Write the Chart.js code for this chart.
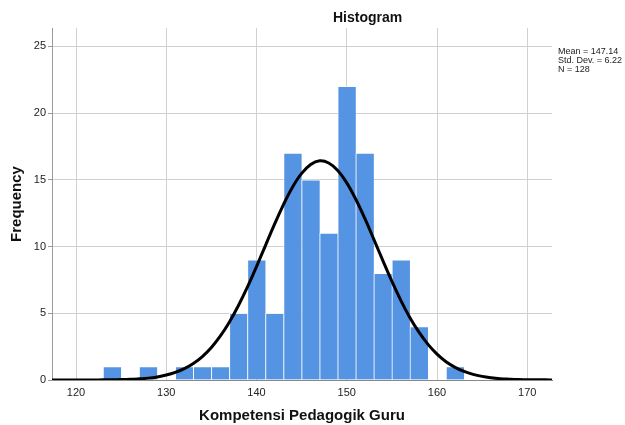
<!DOCTYPE html>
<html>
<head>
<meta charset="utf-8">
<script src="https://cdn.jsdelivr.net/npm/chart.js@4"></script>
<style>
  body { margin: 0; background: #fff; }
  #wrap { position: relative; width: 625px; height: 425px; font-family: 'Liberation Sans', Arial, sans-serif; }
  #title { position: absolute; left: 333px; top: 9px; font-size: 14px; line-height: 16px; font-weight: bold; color: #111; }
  #stats { position: absolute; left: 558px; top: 47px; font-size: 9px; line-height: 9px; color: #222; white-space: nowrap; }
</style>
</head>
<body>
<div id="wrap">
  <canvas id="histChart" width="625" height="425"></canvas>
  <div id="title">Histogram</div>
  <div id="stats">Mean = 147.14<br>Std. Dev. = 6.22<br>N = 128</div>
</div>
<script>
// bins are 2 units wide, value = bin centre
const binCenters = [124, 126, 128, 130, 132, 134, 136, 138, 140, 142, 144, 146, 148, 150, 152, 154, 156, 158, 160, 162];
const frequencies = [1, 0, 1, 0, 1, 1, 1, 5, 9, 5, 17, 15, 11, 22, 17, 8, 9, 4, 0, 1];

// normal curve
const curveX = [117, 118, 119, 120, 121, 122, 123, 124, 125, 126, 127, 128, 129, 130, 131, 132, 133, 134, 135, 136, 137, 138, 139, 140, 141, 142, 143, 144, 145, 146, 147, 148, 149, 150, 151, 152, 153, 154, 155, 156, 157, 158, 159, 160, 161, 162, 163, 164, 165, 166, 167, 168, 169, 170, 171, 172, 173];
const curveY = [0.00, 0.00, 0.00, 0.00, 0.00, 0.00, 0.01, 0.02, 0.03, 0.05, 0.09, 0.14, 0.23, 0.37, 0.57, 0.85, 1.24, 1.76, 2.44, 3.30, 4.35, 5.58, 6.97, 8.50, 10.09, 11.67, 13.16, 14.46, 15.48, 16.15, 16.42, 16.26, 15.70, 14.77, 13.54, 12.10, 10.54, 8.94, 7.39, 5.95, 4.67, 3.58, 2.67, 1.94, 1.37, 0.95, 0.64, 0.42, 0.27, 0.17, 0.10, 0.06, 0.03, 0.02, 0.01, 0.01, 0.00];

const xTicks = [120, 130, 140, 150, 160, 170];
const yTicks = [0, 5, 10, 15, 20, 25];

const fontFamily = "'Liberation Sans', Arial, sans-serif";

const ctx = document.getElementById('histChart').getContext('2d');
new Chart(ctx, {
    type: 'bar',
    data: {
        datasets: [
            {
                type: 'line',
                data: curveX.map((x, i) => ({ x: x, y: curveY[i] })),
                borderColor: '#000000',
                borderWidth: 3,
                pointRadius: 0,
                tension: 0.4,
                fill: false,
                order: 1
            },
            {
                type: 'bar',
                data: binCenters.map((x, i) => ({ x: x, y: frequencies[i] })),
                backgroundColor: '#5594e3',
                borderColor: 'rgba(255, 255, 255, 0.75)',
                borderWidth: { top: 1, left: 1, right: 0, bottom: 0 },
                borderSkipped: false,
                barPercentage: 1,
                categoryPercentage: 1,
                order: 2
            }
        ]
    },
    options: {
        responsive: false,
        animation: false,
        layout: {
            padding: { left: 0, right: 73, top: 28, bottom: 0 }
        },
        plugins: {
            legend: { display: false },
            tooltip: { enabled: false }
        },
        scales: {
            x: {
                type: 'linear',
                min: 117.34,
                max: 172.74,
                offset: false,
                afterBuildTicks: (scale) => {
                    scale.ticks = xTicks.map(v => ({ value: v }));
                },
                afterFit: (scale) => { scale.height = 45; },
                grid: {
                    color: '#d0d0d0',
                    drawTicks: false,
                    offset: false
                },
                border: { color: '#888888' },
                ticks: {
                    padding: 6,
                    color: '#222',
                    font: { family: fontFamily, size: 11 }
                },
                title: {
                    display: true,
                    text: 'Kompetensi Pedagogik Guru',
                    color: '#111',
                    font: { family: fontFamily, size: 15, weight: 'bold' },
                    padding: { top: 0, bottom: 0 }
                }
            },
            y: {
                min: 0,
                max: 26.37,
                afterBuildTicks: (scale) => {
                    scale.ticks = yTicks.map(v => ({ value: v }));
                },
                afterFit: (scale) => { scale.width = 52; },
                grid: {
                    color: '#d0d0d0',
                    tickColor: '#999999',
                    tickLength: 4
                },
                border: { color: '#999999' },
                ticks: {
                    padding: 2,
                    color: '#222',
                    font: { family: fontFamily, size: 11 }
                },
                title: {
                    display: true,
                    text: 'Frequency',
                    color: '#111',
                    font: { family: fontFamily, size: 15, weight: 'bold' },
                    padding: { top: 8, bottom: 0 }
                }
            }
        }
    }
});
</script>
</body>
</html>
